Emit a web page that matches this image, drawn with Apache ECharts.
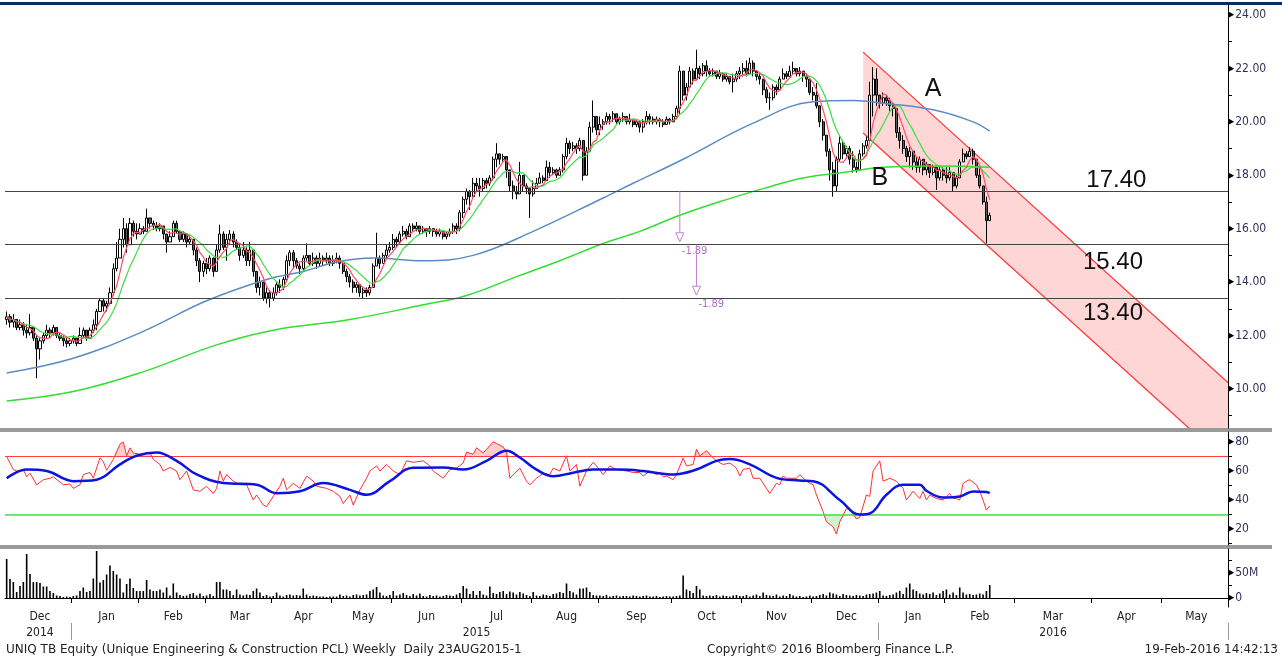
<!DOCTYPE html>
<html>
<head>
<meta charset="utf-8">
<script src="https://cdn.jsdelivr.net/npm/echarts@6/dist/echarts.min.js"></script>
<style>
html, body { margin: 0; padding: 0; background: #fff; }
#main { width: 1282px; height: 661px; }
</style>
</head>
<body>
<div id="main"></div>
<script>
// ---- time axis: trading-day slots per month (Dec 2014 .. May 2016)
const monthNames = ['Dec','Jan','Feb','Mar','Apr','May','Jun','Jul','Aug','Sep','Oct','Nov','Dec','Jan','Feb','Mar','Apr','May'];
const monthSlots = [20, 20, 20, 20, 18, 18, 21, 21, 20, 22, 21, 21, 20, 20, 21, 23, 21, 20];
const yearNames = ['2014', '2015', '2016'];
const yearFirstMonth = [0, 1, 13];

// ---- daily prices (THB), first open
const firstOpen = 12.6;
const closes = [
  // Dec 2014
  12.7,12.5,12.6,12.3,12.4,12.2,12.1,12.3,11.9,11.5,11.8,12.0,12.2,12.1,12.3,12.0,11.9,11.8,11.7,11.8,
  // Jan 2015
  11.9,11.7,12.0,12.2,11.9,12.2,12.4,12.9,13.3,13.1,13.2,13.6,14.5,14.9,15.6,16.0,15.4,16.2,15.9,15.8,
  // Feb
  16.0,15.9,16.4,16.2,16.1,16.0,16.1,15.8,15.5,15.7,16.2,15.9,15.6,15.8,15.5,15.6,15.2,14.8,14.4,14.7,
  // Mar
  14.5,14.9,14.4,15.2,15.8,15.3,15.6,15.8,15.5,15.3,15.0,15.2,14.8,15.2,14.4,13.8,14.0,13.4,13.6,13.4,
  // Apr
  13.6,13.9,13.8,14.1,14.8,15.1,14.8,14.6,14.5,14.9,15.0,14.7,14.9,14.7,14.9,14.8,14.9,14.7,
  // May
  14.8,14.9,14.7,14.4,14.2,14.0,13.8,13.9,13.6,13.7,13.6,13.8,14.6,14.9,14.7,15.0,15.2,15.3,
  // Jun
  15.6,15.5,15.8,15.9,15.7,16.1,16.0,16.1,15.9,16.0,15.9,16.0,15.9,15.8,15.9,15.7,15.8,15.9,16.1,16.0,16.6,
  // Jul
  17.1,17.4,17.2,17.7,17.6,17.5,17.8,17.7,17.9,18.6,18.8,18.6,18.7,18.2,17.6,17.4,17.3,18.0,17.6,17.5,17.3,
  // Aug
  17.5,17.7,17.9,17.8,18.3,18.1,18.2,18.0,18.2,18.7,19.2,19.0,19.1,19.0,19.3,18.0,18.9,19.8,20.2,19.7,
  // Sep
  19.9,20.0,20.2,20.1,20.3,20.0,20.1,20.2,20.0,20.1,19.9,20.0,19.8,20.0,20.2,20.1,20.0,20.1,20.0,19.9,20.1,20.0,
  // Oct
  20.2,20.5,21.9,21.0,21.3,21.9,21.6,22.0,21.8,22.1,21.9,21.8,21.9,21.7,21.8,21.6,21.7,21.5,21.6,21.8,21.9,
  // Nov
  22.0,21.8,22.2,21.9,21.7,21.6,21.2,20.9,20.9,21.3,21.2,21.6,21.8,21.7,21.9,22.0,21.8,21.9,21.7,21.6,21.1,
  // Dec
  21.0,20.6,20.0,19.5,18.9,18.2,17.6,18.6,19.2,18.8,19.0,18.6,18.3,18.2,18.8,19.1,19.3,21.0,21.6,21.0,
  // Jan 2016
  20.7,20.9,20.8,20.6,20.5,19.6,19.3,19.0,18.7,18.9,18.5,18.3,18.6,18.2,18.4,18.1,18.3,17.9,18.2,18.0,
  // Feb 2016
  17.9,18.1,17.6,17.9,18.5,18.8,18.7,18.9,18.6,18.0,17.6,17.0,16.3,16.5
];
const highs = [
  12.9,12.8,12.8,12.6,12.6,12.5,12.4,12.8,12.3,12.0,11.9,12.1,12.4,12.3,12.4,12.3,12.1,12.0,11.9,11.9,
  12.0,11.9,12.3,12.3,12.2,12.3,12.6,13.0,13.4,13.4,13.3,13.8,14.7,15.5,16.0,16.4,16.2,16.4,16.3,16.2,
  16.2,16.1,16.75,16.4,16.3,16.25,16.2,16.0,15.8,15.9,16.3,16.3,15.9,15.9,15.8,15.75,15.5,15.3,14.9,14.8,
  14.9,15.0,14.9,15.4,16.15,15.9,15.8,15.95,15.9,15.6,15.4,15.5,15.3,15.5,15.1,14.4,14.2,14.0,13.8,13.7,
  13.8,14.0,14.1,14.2,15.0,15.2,15.2,14.9,14.7,15.0,15.45,15.0,15.1,15.0,15.1,15.0,15.1,15.0,
  15.0,15.1,15.0,14.8,14.5,14.3,14.1,14.0,13.9,13.8,13.8,13.9,14.7,15.85,15.0,15.1,15.4,15.5,
  15.8,15.7,15.9,16.1,16.0,16.2,16.2,16.25,16.1,16.1,16.0,16.1,16.0,16.0,16.0,15.9,15.9,16.0,16.2,16.2,16.7,
  17.2,17.5,17.45,17.9,17.9,17.9,17.9,17.9,18.0,18.7,19.2,18.8,18.8,18.7,18.2,17.8,17.6,18.5,18.0,17.7,17.5,
  17.8,17.9,18.1,18.0,18.55,18.5,18.3,18.25,18.3,18.8,19.4,19.3,19.25,19.2,19.4,19.2,19.05,20.0,20.8,20.2,
  20.2,20.1,20.35,20.3,20.4,20.3,20.2,20.35,20.2,20.3,20.1,20.1,20.0,20.1,20.4,20.3,20.2,20.2,20.15,20.1,20.2,20.15,
  20.3,20.6,22.1,21.9,21.45,22.05,22.0,22.7,22.1,22.2,22.3,22.0,22.0,21.9,21.95,21.85,21.8,21.7,21.8,21.9,22.05,
  22.2,22.3,22.4,22.3,21.9,21.8,21.6,21.3,21.1,21.4,21.4,21.7,22.0,21.9,22.1,22.25,22.0,22.05,21.9,21.8,21.6,
  21.3,21.45,20.6,20.1,19.5,19.0,18.5,18.7,19.45,19.3,19.1,19.1,18.9,18.5,18.95,19.2,19.45,21.5,22.05,22.0,
  21.0,21.1,21.0,20.9,20.7,20.5,19.8,19.5,19.1,19.05,18.9,18.7,18.7,18.6,18.5,18.4,18.4,18.3,18.3,18.3,
  18.3,18.3,18.1,18.0,18.6,19.0,18.9,19.05,19.0,18.45,18.3,17.5,17.2,16.6
];
const lows = [
  12.4,12.3,12.3,12.2,12.2,12.0,11.9,12.0,11.8,10.4,11.1,11.7,11.9,11.9,12.0,11.9,11.8,11.6,11.55,11.6,
  11.7,11.6,11.7,11.9,11.8,11.9,12.1,12.2,12.9,12.9,12.9,13.2,13.5,14.4,14.9,15.3,15.1,15.5,15.7,15.6,
  15.8,15.8,15.9,16.0,15.95,15.9,15.9,15.6,15.1,15.5,15.7,15.8,15.5,15.5,15.3,15.4,15.0,14.6,14.0,14.2,
  14.3,14.4,14.2,14.4,15.1,15.2,14.8,15.4,15.3,15.2,14.8,14.9,14.6,14.6,14.2,13.6,13.5,13.3,13.2,13.05,
  13.3,13.5,13.6,13.7,14.0,14.6,14.5,14.5,14.3,14.4,14.8,14.6,14.6,14.5,14.6,14.6,14.7,14.6,
  14.6,14.7,14.5,14.3,14.0,13.8,13.6,13.6,13.45,13.4,13.45,13.5,13.8,14.6,14.5,14.7,14.9,15.1,
  15.2,15.3,15.4,15.7,15.6,15.7,15.9,15.9,15.8,15.8,15.7,15.8,15.7,15.7,15.7,15.6,15.6,15.7,15.8,15.8,15.9,
  16.4,16.9,16.7,17.3,17.4,17.2,17.4,17.5,17.6,17.8,18.3,18.4,18.5,17.9,17.4,17.1,17.1,17.4,17.4,17.3,16.4,
  17.2,17.5,17.7,17.7,17.8,17.9,18.0,17.9,18.0,18.1,18.6,18.8,18.9,18.8,18.9,17.8,18.3,19.0,19.6,19.5,
  19.5,19.7,19.9,19.9,20.0,19.9,19.9,20.0,19.9,19.9,19.8,19.8,19.6,19.6,19.9,19.9,19.9,19.9,19.8,19.8,19.9,19.9,
  20.0,20.1,20.3,20.8,20.8,21.3,21.4,21.6,21.6,21.7,21.7,21.7,21.7,21.6,21.6,21.5,21.5,21.4,21.1,21.5,21.6,
  21.7,21.7,21.8,21.7,21.55,21.4,21.0,20.7,20.45,20.8,21.0,21.2,21.6,21.6,21.7,21.8,21.7,21.7,21.5,21.3,21.0,
  20.8,20.5,19.8,19.3,18.7,17.8,17.2,17.4,18.5,18.6,18.7,18.4,18.1,18.1,18.2,18.7,19.0,19.3,20.2,20.6,
  20.5,20.6,20.6,20.4,20.2,19.4,19.0,18.8,18.5,18.3,18.2,18.1,18.1,18.0,18.0,17.9,18.0,17.45,17.8,17.8,
  17.7,17.8,17.4,17.5,17.9,18.5,18.6,18.7,18.4,17.9,17.5,16.9,15.45,16.4
];

// ---- daily volume (millions of shares)
const volumes = [
  78,38,32,12,24,32,88,48,32,32,30,23,23,14,10,5,4,2,3,2,
  4,5,14,21,12,14,39,94,31,36,47,65,54,47,39,11,28,39,20,14,
  14,14,36,17,14,14,17,11,21,5,29,11,6,4,5,8,10,5,9,4,
  5,8,4,32,32,17,17,14,6,17,7,5,7,6,14,19,11,4,6,3,
  4,11,5,3,6,7,5,6,5,19,7,4,5,4,3,3,2,3,
  3,3,7,4,5,3,6,7,5,6,7,14,17,22,11,5,4,6,
  14,5,7,10,6,4,8,5,9,4,3,6,4,5,3,4,6,5,4,7,10,
  24,19,8,14,6,14,7,5,23,10,8,12,14,8,13,11,7,12,9,6,4,
  12,5,4,7,6,4,8,9,12,10,29,14,11,7,19,19,21,12,6,5,
  5,4,6,3,4,5,3,4,4,3,5,4,3,4,5,3,3,4,2,3,4,3,
  3,4,5,45,17,14,10,24,17,5,4,5,4,6,3,5,4,3,5,6,4,
  4,6,3,5,7,4,11,6,5,4,7,3,5,4,8,5,3,4,2,3,5,
  3,4,6,8,5,11,9,7,4,8,6,5,4,6,5,4,7,8,9,11,
  14,5,4,6,7,11,14,8,21,29,17,14,9,7,10,8,11,6,9,14,
  17,7,11,6,21,11,7,8,6,7,9,7,14,26
];

// ---- long moving averages: [day, value]
const ma100 = [[0,10.6],[20,11.15],[40,12.1],[60,13.3],[78,14.1],[89,14.4],[99,14.75],[110,14.9],[125,14.8],[140,15.0],
  [158,15.9],[179,17.15],[188,17.7],[203,18.6],[224,19.95],[242,20.75],[254,20.8],[263,20.7],[278,20.45],[290,20.0],[295,19.65]];
const ma200 = [[0,9.55],[20,9.9],[40,10.6],[63,11.65],[80,12.2],[103,12.6],[125,13.15],[138,13.5],[154,14.25],[166,14.8],
  [178,15.4],[190,15.9],[202,16.5],[215,17.05],[227,17.5],[239,17.9],[251,18.1],[263,18.3],[280,18.35],[295,18.3]];

// ---- RSI (red) and its smoothing (blue): [day, value]
const rsi = [[0,70],[2,61],[3,60],[5,61],[6,56],[7,58.5],[9,50.5],[11,54],[13,55],[14,56],[17,50.5],[19,51],[20,48],[22,50.5],
  [23,57.5],[25,59],[26,55],[28,69],[29,66.5],[30,60.5],[32,68],[34,78.5],[35,80],[36,70.5],[37,76],[38,72.5],[40,71.5],
  [43,72.5],[44,68],[46,64.5],[47,60],[49,62.5],[51,60],[52,54],[54,60],[56,47],[58,46],[60,49.5],[62,44.5],[63,48],[64,60],
  [65,53],[66,57.5],[68,53],[70,50.5],[72,50.5],[74,40],[75,43.5],[77,36.5],[78,35.5],[80,42.5],[82,49.5],[83,55],[84,47],
  [86,51.5],[88,48],[90,56.5],[92,53],[93,49.5],[96,48],[98,46],[100,42.5],[101,37.5],[103,43.5],[104,36.5],[106,47],[108,55],
  [109,60],[111,63.5],[112,60],[114,64.5],[116,60],[118,57.5],[120,67],[122,66],[125,67],[127,63.5],[128,60],[131,55],[133,61],
  [135,62],[137,65.5],[138,73],[140,71.5],[141,76],[143,72.5],[144,75],[146,80],[147,79],[149,76.5],[150,73],[151,55],[152,57.5],
  [154,62],[156,53],[157,50.5],[159,55],[161,58.5],[163,57.5],[164,62],[166,60],[168,70.5],[169,60],[170,62],[171,64.5],
  [172,49.5],[174,60],[176,66],[177,63.5],[179,57.5],[181,63.5],[183,61],[186,60],[188,59],[190,59],[191,56.5],[193,60],
  [195,57.5],[196,59],[197,56],[198,56.5],[200,54],[201,57.5],[203,69],[204,63.5],[206,64.5],[207,75],[208,70.5],[210,74],
  [212,69],[213,67],[215,64.5],[217,65.5],[219,62],[220,56.5],[221,61],[223,62],[224,55],[226,55],[228,48],[229,44.5],
  [231,51.5],[232,50.5],[233,56.5],[234,55],[237,55],[238,57.5],[240,53],[241,51.5],[242,50.5],[243,43.5],[245,32],[246,25],
  [248,21.5],[249,16.5],[250,25],[252,34],[253,34],[255,27],[256,28],[258,43.5],[259,42.5],[260,60],[262,67],[263,53],
  [265,55],[267,53],[269,48],[270,40],[272,46],[274,41],[275,46],[276,40],[277,43.5],[279,41],[281,40],[283,44.5],[284,41],
  [285,41],[286,40],[287,51.5],[288,53],[289,54],[291,50.5],[292,46],[293,40],[294,33],[295,36]];
const rsiAvg = [[0,55],[6,61],[12,60],[20,53],[27,54],[34,64.6],[39,70.5],[45,72.8],[51,67],[57,57.6],[65,51.7],[75,50.6],
  [81,44.7],[88,46],[95,51.7],[103,47],[108,43.6],[115,53],[122,62.3],[131,62.5],[137,61],[144,67],[150,74],[154,69.3],
  [159,61],[164,56.4],[170,58.8],[176,61],[184,61],[191,60],[200,57.6],[207,61],[213,67],[217,68.2],[223,64.6],[231,55.3],
  [238,53.4],[242,53],[250,40],[256,30],[259,30.7],[264,43.6],[269,50.6],[274,50.6],[276,46.4],[281,41.7],[286,42.4],
  [290,45.9],[294,45.5],[295,44.7]];
const rsiBands = [70, 30];

// ---- annotations
const levelValues = [17.40, 15.40, 13.40];
const levelLabels = ['17.40', '15.40', '13.40'];
const levelLabelPos = [[332.6, 17.82], [331.7, 14.75], [331.7, 12.84]];
const channelX = [257, 366.5];
const channelUpper = [22.61, 10.18];
const channelLower = [19.58, 7.15];
const arrowX = [202, 207];
const arrowFrom = [17.40, 15.40];
const arrowTo = [15.51, 13.51];
const arrowText = ['-1.89', '-1.89'];
const letterLabels = [['A', 278, 21.23], ['B', 262.4, 17.9]];

const priceTicks = [10, 12, 14, 16, 18, 20, 22, 24];
const priceMinor = [9, 11, 13, 15, 17, 19, 21, 23];
const rsiTicks = [20, 40, 60, 80];
const rsiMinor = [10, 30, 50, 70];
const volTicks = [0, 50];
const volMinor = [25, 75];

// ---- build
const slotLabels = [];
const monthStart = new Set();
let pos = 0;
monthNames.forEach((m, k) => {
  monthStart.add(pos);
  for (let j = 0; j < monthSlots[k]; j++) slotLabels.push(j === Math.floor(monthSlots[k] / 2) ? m : '');
  pos += monthSlots[k];
});
const nSlots = pos;
const cats = slotLabels.map((_, i) => 'd' + i);
// year labels, centred on each year's span
const yearStart = yearFirstMonth.map(mi => monthSlots.slice(0, mi).reduce((a, b) => a + b, 0));
const yearLabels = new Array(nSlots).fill('');
yearStart.forEach((s, k) => {
  const e = k + 1 < yearStart.length ? yearStart[k + 1] : nSlots;
  yearLabels[Math.floor((s + e) / 2)] = yearNames[k];
});
const yearStartSet = new Set(yearStart);

function sma(arr, n) {
  return arr.map((v, i) => {
    const s = Math.max(0, i - n + 1);
    let t = 0;
    for (let k = s; k <= i; k++) t += arr[k];
    return +(t / (i - s + 1)).toFixed(3);
  });
}
const candles = closes.map((c, i) => {
  const o = i ? closes[i - 1] : firstOpen;
  return [o, c, Math.min(lows[i], o, c), Math.max(highs[i], o, c)];
});

const FONT = 'DejaVu Sans Condensed, DejaVu Sans, sans-serif';
const FONT_W = 'DejaVu Sans, sans-serif';
const AX = '#30305a';

function hiddenX(g) {
  return { type: 'category', gridIndex: g, data: cats, boundaryGap: true,
    axisLine: { show: false }, axisTick: { show: false }, axisLabel: { show: false }, splitLine: { show: false } };
}
function rightY(g, min, max, ticks, minor, fmt) {
  return {
    type: 'value', gridIndex: g, position: 'right', min: min, max: max, scale: true,
    axisLine: { show: true, lineStyle: { color: '#000', width: 1 } },
    axisTick: { show: true, customValues: minor, length: 4, lineStyle: { color: '#000' } },
    axisLabel: { customValues: ticks, margin: 0, fontSize: 12, fontFamily: FONT, color: AX,
      formatter: v => '{t|\u25B6}' + fmt(v), rich: { t: { fontSize: 9, color: '#000', padding: [0, 1, 0, 0] } } },
    splitLine: { show: false }
  };
}

function renderChannel(params, api) {
  const a = api.coord([channelX[0], channelUpper[0]]);
  const b = api.coord([channelX[1], channelUpper[1]]);
  const c = api.coord([channelX[1], channelLower[1]]);
  const d = api.coord([channelX[0], channelLower[0]]);
  const cs = params.coordSys;
  return {
    type: 'group',
    clipPath: { type: 'rect', shape: { x: cs.x, y: cs.y, width: cs.width, height: cs.height } },
    children: [
      { type: 'polygon', shape: { points: [a, b, c, d] }, style: { fill: '#ffd6d6' } },
      { type: 'line', shape: { x1: a[0], y1: a[1], x2: b[0], y2: b[1] }, style: { stroke: '#ff3a3a', lineWidth: 1.3 } },
      { type: 'line', shape: { x1: d[0], y1: d[1], x2: c[0], y2: c[1] }, style: { stroke: '#ff3a3a', lineWidth: 1.3 } }
    ]
  };
}

function renderNotes(params, api) {
  const kids = [];
  arrowX.forEach((x, i) => {
    const p1 = api.coord([x, arrowFrom[i]]);
    const p2 = api.coord([x, arrowTo[i]]);
    kids.push({ type: 'line', shape: { x1: p1[0], y1: p1[1], x2: p2[0], y2: p2[1] - 9 }, style: { stroke: '#c084d4', lineWidth: 1 } });
    kids.push({ type: 'polygon', shape: { points: [[p2[0] - 4, p2[1] - 9], [p2[0] + 4, p2[1] - 9], [p2[0], p2[1]]] },
      style: { fill: '#fff', stroke: '#c084d4', lineWidth: 1 } });
    kids.push({ type: 'text', x: p2[0] + 2, y: p2[1] + 9,
      style: { text: arrowText[i], fill: '#b070c4', font: '11px ' + FONT, textAlign: 'left', textVerticalAlign: 'middle' } });
  });
  levelLabels.forEach((t, i) => {
    const p = api.coord(levelLabelPos[i]);
    kids.push({ type: 'text', x: p[0], y: p[1],
      style: { text: t, fill: '#111', font: '24px Liberation Sans, Arial, sans-serif', textAlign: 'center', textVerticalAlign: 'middle' } });
  });
  letterLabels.forEach(l => {
    const p = api.coord([l[1], l[2]]);
    kids.push({ type: 'text', x: p[0], y: p[1],
      style: { text: l[0], fill: '#111', font: '25px Liberation Sans, Arial, sans-serif', textAlign: 'center', textVerticalAlign: 'middle' } });
  });
  return { type: 'group', children: kids };
}

const chart = echarts.init(document.getElementById('main'));
chart.setOption({
  animation: false,
  backgroundColor: '#fff',
  grid: [
    { left: 5, right: 54, top: 5, height: 423 },
    { left: 5, right: 54, top: 432, height: 113 },
    { left: 5, right: 54, top: 549, height: 58 }
  ],
  xAxis: [
    hiddenX(0),
    hiddenX(1),
    { type: 'category', gridIndex: 2, data: cats, boundaryGap: true,
      axisLine: { show: true, lineStyle: { color: '#000' } },
      axisTick: { show: true, interval: i => i > 0 && monthStart.has(i), length: 5, lineStyle: { color: '#000' } },
      axisLabel: { interval: 0, formatter: (v, i) => slotLabels[i], margin: 4, fontSize: 12, fontFamily: FONT, color: '#222' },
      splitLine: { show: false } },
    { type: 'category', gridIndex: 2, data: cats, boundaryGap: true, position: 'bottom', offset: 16,
      axisLine: { show: false },
      axisTick: { show: true, interval: i => i > 0 && yearStartSet.has(i), length: 17, lineStyle: { color: '#999' } },
      axisLabel: { interval: 0, formatter: (v, i) => yearLabels[i], margin: 4, fontSize: 12, fontFamily: FONT, color: '#222' },
      splitLine: { show: false } }
  ],
  yAxis: [
    rightY(0, 8.537, 24.374, priceTicks, priceMinor, v => v.toFixed(2)),
    rightY(1, 8.97, 86.9, rsiTicks, rsiMinor, v => String(v)),
    rightY(2, -18, 98, volTicks, volMinor, v => (v === 0 ? '0' : v + 'M'))
  ],
  graphic: [
    { type: 'rect', left: 0, top: 2, shape: { width: 1282, height: 3 }, style: { fill: '#0b2d5e' } },
    { type: 'rect', left: 0, top: 428, shape: { width: 1272, height: 4 }, style: { fill: '#9a9a9a' } },
    { type: 'rect', left: 0, top: 545, shape: { width: 1272, height: 4 }, style: { fill: '#9a9a9a' } },
    { type: 'text', left: 6, top: 644, style: { text: 'UNIQ TB Equity (Unique Engineering & Construction PCL) Weekly  Daily 23AUG2015-1', fill: '#222', font: '12px ' + FONT_W } },
    { type: 'text', left: 707, top: 644, style: { text: 'Copyright\u00A9 2016 Bloomberg Finance L.P.', fill: '#222', font: '12px ' + FONT_W } },
    { type: 'text', right: 4, top: 644, style: { text: '19-Feb-2016 14:42:13', fill: '#222', font: '12px ' + FONT_W } }
  ],
  series: [
    { type: 'custom', name: 'channel', xAxisIndex: 0, yAxisIndex: 0, renderItem: renderChannel, data: [[0, 0]], z: 1, silent: true },
    { type: 'candlestick', name: 'UNIQ', xAxisIndex: 0, yAxisIndex: 0, data: candles, barWidth: 2.6, z: 3,
      itemStyle: { color: '#ffffff', color0: '#5a5a5a', borderColor: '#000', borderColor0: '#000', borderWidth: 1 },
      markLine: { silent: true, symbol: 'none', label: { show: false },
        lineStyle: { color: '#454545', width: 1, type: 'solid' },
        data: levelValues.map(v => ({ yAxis: v })) } },
    { type: 'line', name: 'MA200', xAxisIndex: 0, yAxisIndex: 0, data: ma200, smooth: 0.4, symbol: 'none', z: 4,
      lineStyle: { color: '#33dd33', width: 1.5 } },
    { type: 'line', name: 'MA100', xAxisIndex: 0, yAxisIndex: 0, data: ma100, smooth: 0.4, symbol: 'none', z: 4,
      lineStyle: { color: '#5b8cc4', width: 1.5 } },
    { type: 'line', name: 'MA10', xAxisIndex: 0, yAxisIndex: 0, data: sma(closes, 10), symbol: 'none', z: 4,
      lineStyle: { color: '#3fdc3f', width: 1.2 } },
    { type: 'line', name: 'MA5', xAxisIndex: 0, yAxisIndex: 0, data: sma(closes, 5), symbol: 'none', z: 5,
      lineStyle: { color: '#ff4c64', width: 1.2 } },
    { type: 'custom', name: 'notes', xAxisIndex: 0, yAxisIndex: 0, renderItem: renderNotes, data: [[0, 0]], z: 6, silent: true },

    { type: 'line', name: 'overbought', xAxisIndex: 1, yAxisIndex: 1, data: rsi.map(p => [p[0], Math.max(p[1], rsiBands[0])]),
      symbol: 'none', lineStyle: { width: 0 }, areaStyle: { origin: rsiBands[0], color: '#ffb8b8' }, z: 2 },
    { type: 'line', name: 'oversold', xAxisIndex: 1, yAxisIndex: 1, data: rsi.map(p => [p[0], Math.min(p[1], rsiBands[1])]),
      symbol: 'none', lineStyle: { width: 0 }, areaStyle: { origin: rsiBands[1], color: '#b8f0b8' }, z: 2 },
    { type: 'line', name: 'RSI', xAxisIndex: 1, yAxisIndex: 1, data: rsi, symbol: 'none', z: 4,
      lineStyle: { color: '#ff3030', width: 1 },
      markLine: { silent: true, symbol: 'none', label: { show: false },
        data: [
          { yAxis: rsiBands[0], lineStyle: { color: '#ff4040', width: 1.2, type: 'solid' } },
          { yAxis: rsiBands[1], lineStyle: { color: '#44dd44', width: 1.5, type: 'solid' } }
        ] } },
    { type: 'line', name: 'RSI avg', xAxisIndex: 1, yAxisIndex: 1, data: rsiAvg, smooth: 0.4, symbol: 'none', z: 5,
      lineStyle: { color: '#0a14e0', width: 2.5 } },

    { type: 'bar', name: 'Volume', xAxisIndex: 2, yAxisIndex: 2, data: volumes, barWidth: 1.6,
      itemStyle: { color: '#000' } }
  ]
});
</script>
</body>
</html>
